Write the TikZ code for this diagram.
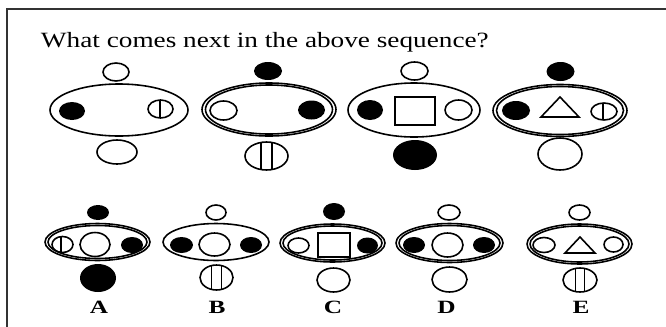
\documentclass[tikz,border=0pt]{standalone}
\usepackage{fontspec}
\setmainfont{Liberation Serif}
\begin{document}
\begin{tikzpicture}[x=0.03cm, y=-0.03cm, line width=1.35pt]

    \useasboundingbox (0,0) rectangle (666,326);

    % frame (cut at the right and bottom)
    \draw[line width=2pt, black!80] (7,340) -- (7,9) -- (690,9);

    \node[anchor=base west, inner sep=0pt, font=\fontsize{18.6}{20}\selectfont, xscale=1.25] (question) at (40,47) {What comes next in the above sequence?};

    % figure 1
    \draw (119,110) ellipse [x radius=69, y radius=26];
    \draw (116,72) ellipse [x radius=13, y radius=9];
    \fill (72,111) ellipse [x radius=13, y radius=9];
    \draw (160.5,109) ellipse [x radius=12.5, y radius=9];
    \draw (160,100) -- (160,118);
    \draw (117,152) ellipse [x radius=20, y radius=12];

    % figure 2
    \draw (269,109.5) ellipse [x radius=67, y radius=26.5];
    \draw (269,109.5) ellipse [x radius=63.5, y radius=24.5];
    \fill (268,71) ellipse [x radius=14, y radius=9];
    \draw (223.5,110.5) ellipse [x radius=13.5, y radius=9.5];
    \fill (311.5,110) ellipse [x radius=13.5, y radius=9.5];
    \draw (266.5,156) ellipse [x radius=21.5, y radius=14];
    \draw (261,142.5) -- (261,169.5);
    \draw (272,142.5) -- (272,169.5);

    % figure 3
    \draw (414,110) ellipse [x radius=66, y radius=27];
    \draw (414.5,71) ellipse [x radius=13.5, y radius=9];
    \fill (370,110) ellipse [x radius=13, y radius=10];
    \draw (395,97) rectangle (435,125);
    \draw (458.5,110) ellipse [x radius=13.5, y radius=10];
    \fill (415,155) ellipse [x radius=22, y radius=15];

    % figure 4
    \draw (560,110.5) ellipse [x radius=67, y radius=26];
    \draw (560,110.5) ellipse [x radius=63.5, y radius=24];
    \fill (560.5,71.5) ellipse [x radius=14, y radius=9.5];
    \fill (516,110.5) ellipse [x radius=14, y radius=9.5];
    \draw (541,117) -- (560,97) -- (579,117) -- cycle;
    \draw (604,111.5) ellipse [x radius=13, y radius=8.5];
    \draw (603,103) -- (603,120);
    \draw (560,154) ellipse [x radius=22, y radius=16];

    % option A
    \fill (98,212.5) ellipse [x radius=11, y radius=7.5];
    \draw (97.5,242) ellipse [x radius=52.5, y radius=18.5];
    \draw (97.5,242) ellipse [x radius=49.5, y radius=16.5];
    \draw (62.5,244.5) ellipse [x radius=10.5, y radius=8];
    \draw (61,236.5) -- (61,252.5);
    \draw (95,244.5) ellipse [x radius=15, y radius=12];
    \fill (132,245) ellipse [x radius=11, y radius=8];
    \fill (98,278) ellipse [x radius=18, y radius=14];

    % option B
    \draw (216,212.5) ellipse [x radius=10, y radius=7.5];
    \draw (216,242) ellipse [x radius=53, y radius=18.5];
    \fill (181.5,245) ellipse [x radius=11.5, y radius=8];
    \draw (214.5,244.5) ellipse [x radius=15.5, y radius=11.5];
    \fill (251,245) ellipse [x radius=11, y radius=8];
    \draw (216.5,277.5) ellipse [x radius=16.5, y radius=12.5];
    \draw (211.5,265.6) -- (211.5,289.4);
    \draw (221.5,265.6) -- (221.5,289.4);

    % option C
    \fill (334,211.5) ellipse [x radius=11, y radius=8.5];
    \draw (332.5,243) ellipse [x radius=52.5, y radius=19];
    \draw (332.5,243) ellipse [x radius=49.5, y radius=17];
    \draw (298.5,245.5) ellipse [x radius=10.5, y radius=7.5];
    \draw (318,233) rectangle (350,257);
    \fill (367.5,245.5) ellipse [x radius=10.5, y radius=8];
    \draw (333.5,280) ellipse [x radius=16.5, y radius=12];

    % option D
    \draw (449,212.5) ellipse [x radius=11, y radius=7.5];
    \draw (449.5,243) ellipse [x radius=53.5, y radius=19.5];
    \draw (449.5,243) ellipse [x radius=50.5, y radius=17.5];
    \fill (414,245) ellipse [x radius=11, y radius=8];
    \draw (447.5,245) ellipse [x radius=15.5, y radius=12];
    \fill (484,245) ellipse [x radius=11, y radius=8];
    \draw (449.5,279.5) ellipse [x radius=17.5, y radius=12.5];

    % option E
    \draw (579.5,244) ellipse [x radius=52.5, y radius=20];
    \draw (579.5,244) ellipse [x radius=49.5, y radius=18];
    \draw (579.5,212.5) ellipse [x radius=10.5, y radius=7.5];
    \draw (544,245) ellipse [x radius=11, y radius=7.5];
    \draw (565,253) -- (580,237) -- (595,253) -- cycle;
    \draw (613.5,244.5) ellipse [x radius=9.5, y radius=7.5];
    \draw (580,280) ellipse [x radius=17, y radius=12];
    \draw (575.5,268.4) -- (575.5,291.6);
    \draw (584.5,268.4) -- (584.5,291.6);

    % labels
    \foreach \lbl/\xpos in {A/99, B/217, C/333, D/446.5, E/581}
        \node[anchor=base, inner sep=0pt, font=\bfseries\fontsize{16}{18}\selectfont, xscale=1.35] (opt\lbl) at (\xpos,313) {\lbl};

\end{tikzpicture}
\end{document}
